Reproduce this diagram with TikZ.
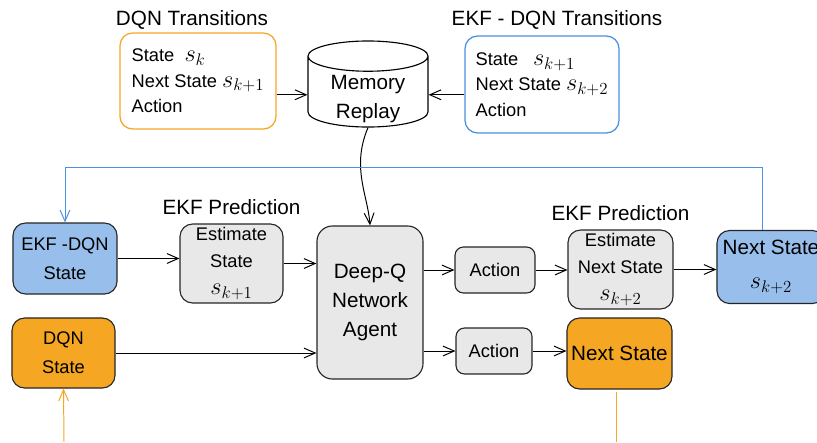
\documentclass[tikz,border=0pt]{standalone}
\usepackage{fontspec}
\setmainfont{Liberation Sans}
\usetikzlibrary{arrows.meta,shapes.geometric,positioning}
\definecolor{dqnorange}{HTML}{F5A623}
\definecolor{ekfblue}{HTML}{4A90E2}
\definecolor{ekffill}{HTML}{98BFEC}
\definecolor{boxgray}{HTML}{E8E8E8}
\newcommand{\stvar}[1]{{\fontsize{16.5}{16.5}\selectfont$s_{#1}$}}
\tikzstyle{block}=[draw=black!85,line width=0.8pt,rounded corners=9pt,align=center,inner sep=0pt,font=\fontsize{13}{19}\selectfont]
\tikzstyle{big text}=[font=\fontsize{14.7}{20.5}\selectfont]
\tikzstyle{gray block}=[block,fill=boxgray]
\tikzstyle{blue block}=[block,fill=ekffill]
\tikzstyle{orange block}=[block,fill=dqnorange]
\tikzstyle{transitions}=[draw,line width=0.9pt,rounded corners=9pt,align=left,inner sep=0pt,font=\fontsize{13}{18}\selectfont]
\tikzstyle{heading}=[font=\fontsize{14.7}{16}\selectfont,inner sep=1pt]
\tikzstyle{link}=[draw,line width=0.7pt,-{Straight Barb[length=8pt,width=7pt]}]

\begin{document}
\begin{tikzpicture}[x=0.025cm,y=-0.025cm]
\useasboundingbox (0,0) rectangle (817,442);

% Replay memory and the two kinds of transitions
\node[transitions,draw=dqnorange,minimum width=3.9cm,minimum height=2.4cm] (dqnt) at (198,81)
  {State~~\stvar{k}\\Next State \stvar{k+1}\\Action};
\node[transitions,draw=ekfblue,minimum width=3.85cm,minimum height=2.425cm] (ekft) at (542,84.5)
  {State\hspace{0.8em}\stvar{k+1}\\Next State \stvar{k+2}\\Action};
\node[cylinder,shape border rotate=90,aspect=0.36,draw,line width=0.8pt,big text,anchor=shape center,
  minimum width=3cm,minimum height=2.15cm] (mem) at (368,84) {\phantom{Memory}};
\node[big text,align=center,inner sep=0pt] (memtext) at (368,99) {Memory\\Replay};
\node[heading] at (192,20) {DQN Transitions};
\node[heading] at (557,20) {EKF - DQN Transitions};

% Then the states, the agent and the actions
\node[blue block,minimum width=2.6cm,minimum height=1.775cm,font=\fontsize{13}{20.5}\selectfont] (ekf) at (65,258.5) {EKF -DQN\\State};
\node[orange block,minimum width=2.575cm,minimum height=1.75cm,font=\fontsize{13}{20.5}\selectfont] (dqn) at (63.5,353) {DQN\\State};
\node[gray block,minimum width=2.575cm,minimum height=1.975cm] (est) at (231.5,263.5) {Estimate\\State\\\stvar{k+1}};
\node[gray block,big text,rounded corners=11pt,minimum width=2.65cm,minimum height=3.825cm] (dq) at (370,302.5) {Deep-Q\\Network\\Agent};
\node[gray block,rounded corners=6pt,minimum width=2cm,minimum height=1.15cm] (act1) at (495,270) {Action};
\node[gray block,rounded corners=6pt,minimum width=1.9cm,minimum height=1.15cm] (act2) at (494,351) {Action};
\node[gray block,minimum width=2.625cm,minimum height=1.975cm] (est2) at (620.5,269.5) {Estimate\\Next State\\\stvar{k+2}};
\node[blue block,minimum width=2.7cm,minimum height=1.825cm,font=\fontsize{14.7}{24}\selectfont] (nb) at (771,267) {Next State\\\stvar{k+2}};
\node[orange block,big text,minimum width=2.625cm,minimum height=1.775cm] (nxt) at (619.5,353.5) {Next State};
\node[heading,above=5pt of est] {EKF Prediction};
\node[heading,above=5pt of est2] {EKF Prediction};

% Connect the blocks
\foreach \source/\dest in {ekf/est,est/dq,dqn/dq,act1/est2,est2/nb,act2/nxt}
  \path[link] (\source.east) -- (\source.east -| \dest.west);
\foreach \source/\dest in {dq/act1,dq/act2,dqnt/mem}
  \path[link] (\dest.west -| \source.east) -- (\dest.west);
\path[link] (ekft.west |- mem.east) -- (mem.east);
\path[link] (mem.south) .. controls +(-17,40) and +(-2,-30) .. (dq.north);

% Feedback of the predicted state
\coordinate (fb) at (762,167);
\path[link,draw=ekfblue] (fb |- nb.north) -- (fb) -- (fb -| ekf.north) -- (ekf.north);
\coordinate (dqnin) at (64,442);
\coordinate (nxtout) at (616,442);
\path[link,draw=dqnorange] (dqnin) -- (dqn.south);
\draw[dqnorange,line width=0.7pt] (nxtout |- nxt.south) ++(0,2) -- (nxtout);

\end{tikzpicture}
\end{document}
